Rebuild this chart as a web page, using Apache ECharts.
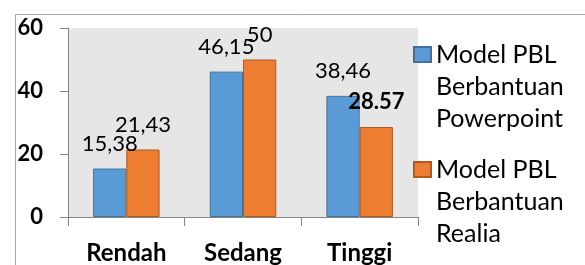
<!DOCTYPE html>
<html>
<head>
<meta charset="utf-8">
<script src="https://cdn.jsdelivr.net/npm/echarts@6/dist/echarts.min.js"></script>
<style>
html,body{margin:0;padding:0;background:#fff;}
#c{width:585px;height:265px;}
</style>
</head>
<body>
<div id="c"></div>
<script>
const categories = ["Rendah", "Sedang", "Tinggi"];
const seriesNames = ["Model PBL\nBerbantuan\nPowerpoint", "Model PBL\nBerbantuan\nRealia"];
const powerpointValues = [15.38, 46.15, 38.46];
const realiaValues = [21.43, 50, 28.57];
const powerpointLabels = ["15,38", "46,15", "38,46"];
const realiaLabels = ["21,43", "50", "28.57"];
const realiaBoldLabel = [false, false, true];
const yTicks = [0, 20, 40, 60];

const FONT = "Lato";
const chart = echarts.init(document.getElementById('c'), null, {renderer: 'canvas'});

function makeData(values, labels, bold) {
  return values.map((v, i) => ({
    value: v,
    label: {
      formatter: labels[i],
      fontWeight: bold && bold[i] ? 'bold' : 'normal'
    }
  }));
}

const labelBase = {
  show: true,
  position: 'top',
  distance: 14,
  color: '#000',
  fontFamily: FONT,
  fontSize: 22
};

chart.setOption({
  animation: false,
  backgroundColor: '#fff',
  graphic: [{
    type: 'rect',
    left: 13, top: 12,
    shape: {width: 700, height: 400},
    style: {fill: 'none', stroke: '#a6a6a6', lineWidth: 1},
    silent: true
  }],
  grid: {
    left: 68, top: 28, right: 167, bottom: 47,
    show: true, backgroundColor: '#e6e6e6', borderWidth: 0
  },
  legend: {
    orient: 'vertical',
    left: 413, top: -25.5,
    padding: 0,
    itemWidth: 17, itemHeight: 15, itemGap: -45,
    icon: 'rect',
    formatter: function (name) { return '\n\n' + name; },
    textStyle: {
      fontFamily: FONT, fontSize: 25, color: '#000', lineHeight: 32
    },
    data: seriesNames
  },
  xAxis: {
    type: 'category',
    data: categories,
    axisLine: {lineStyle: {color: '#868686', width: 1}},
    axisTick: {show: true, length: 9, lineStyle: {color: '#868686'}},
    axisLabel: {color: '#000', fontFamily: FONT, fontWeight: 'bold', fontSize: 24, margin: 24}
  },
  yAxis: {
    type: 'value',
    min: yTicks[0], max: yTicks[yTicks.length - 1], interval: 20,
    splitLine: {show: false},
    axisLine: {show: true, lineStyle: {color: '#868686', width: 1}},
    axisTick: {show: true, length: 8, lineStyle: {color: '#868686'}},
    axisLabel: {color: '#000', fontFamily: FONT, fontWeight: 'bold', fontSize: 22, margin: 25}
  },
  series: [
    {
      name: seriesNames[0], type: 'bar',
      barGap: 0, barCategoryGap: '43%',
      itemStyle: {color: '#5b9bd5', borderColor: '#41719c', borderWidth: 1},
      label: labelBase,
      data: makeData(powerpointValues, powerpointLabels, null)
    },
    {
      name: seriesNames[1], type: 'bar',
      barGap: 0, barCategoryGap: '43%',
      itemStyle: {color: '#ed7d31', borderColor: '#ae5a21', borderWidth: 1},
      label: labelBase,
      data: makeData(realiaValues, realiaLabels, realiaBoldLabel)
    }
  ]
});
</script>
</body>
</html>
